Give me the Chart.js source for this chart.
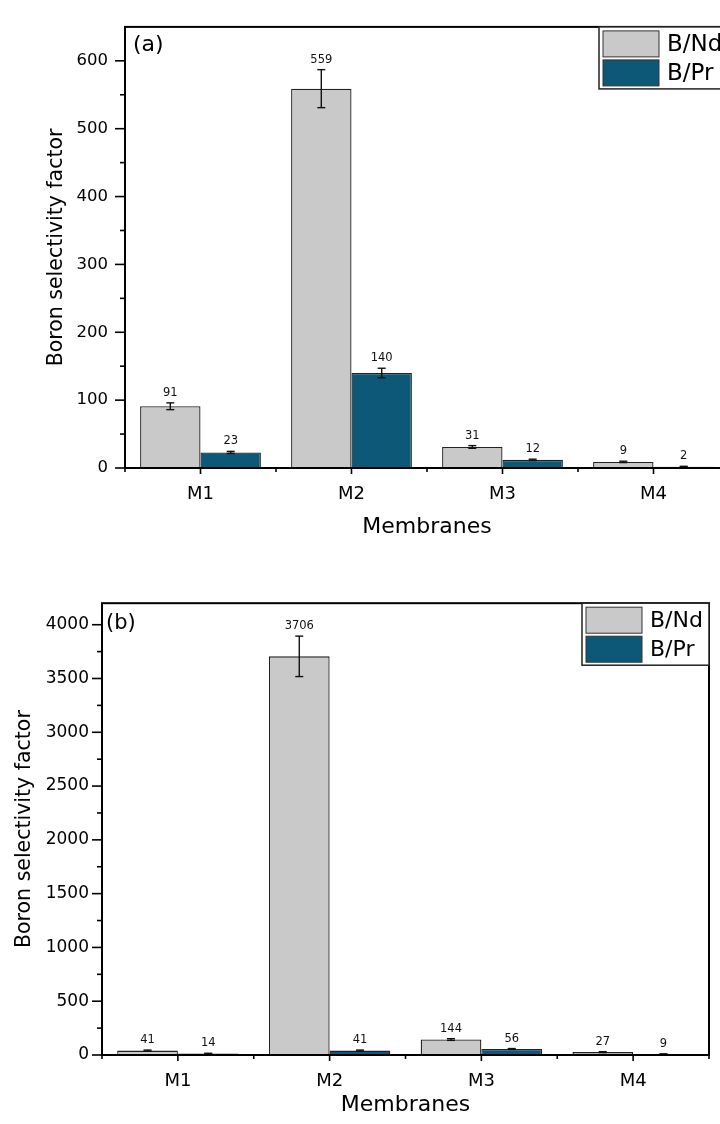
<!DOCTYPE html>
<html>
<head>
<meta charset="utf-8">
<script src="https://cdn.jsdelivr.net/npm/chart.js@4.4.1/dist/chart.umd.min.js"></script>
<style>
html,body{margin:0;padding:0;background:#fff;width:720px;height:1124px;overflow:hidden;}
#ca{position:absolute;left:0;top:0;}
#cb{position:absolute;left:0;top:580px;}
</style>
</head>
<body>
<canvas id="ca" width="745" height="560"></canvas>
<canvas id="cb" width="720" height="544"></canvas>
<script>
// ---------- data ----------
const categories = ['M1', 'M2', 'M3', 'M4'];
const seriesLabels = ['B/Nd', 'B/Pr'];
const seriesColors = ['#c9c9c9', '#0c5876'];

// panel (a)
const ndA = [91, 559, 31, 9];
const ndAErr = [5, 28, 2, 1];
const prA = [23, 140, 12, 2];
const prAErr = [1.5, 7, 1, 0.5];
const yTickValsA = [0, 100, 200, 300, 400, 500, 600];
const yMinorValsA = [50, 150, 250, 350, 450, 550];
const yMaxA = 650;

// panel (b)
const ndB = [41, 3706, 144, 27];
const ndBErr = [5, 188, 8, 4];
const prB = [14, 41, 56, 9];
const prBErr = [2, 5, 4, 1];
const yTickValsB = [0, 500, 1000, 1500, 2000, 2500, 3000, 3500, 4000];
const yMinorValsB = [250, 750, 1250, 1750, 2250, 2750, 3250, 3750];
const yMaxB = 4200;

const FONT = '"DejaVu Sans", "Liberation Sans", Arial, sans-serif';
Chart.defaults.color = '#000';
Chart.defaults.font.family = FONT;

// ---------- plugin: frame, ticks, error bars, value labels, legend ----------
const decor = {
  id: 'decor',
  afterDatasetsDraw(chart, args, o) {
    const ctx = chart.ctx;
    const { left, right, top, bottom } = chart.chartArea;
    const xs = chart.scales.x, ys = chart.scales.y;
    const line = (x1, y1, x2, y2) => { ctx.beginPath(); ctx.moveTo(x1, y1); ctx.lineTo(x2, y2); ctx.stroke(); };
    ctx.save();

    // error bars + value labels
    chart.data.datasets.forEach((ds, di) => {
      const meta = chart.getDatasetMeta(di);
      meta.data.forEach((bar, i) => {
        const v = ds.data[i], e = ds.errors[i];
        const yT = ys.getPixelForValue(v + e), yB = ys.getPixelForValue(v - e);
        ctx.strokeStyle = '#111'; ctx.lineWidth = 1.4;
        line(bar.x, yT, bar.x, yB);
        line(bar.x - 4, yT, bar.x + 4, yT);
        line(bar.x - 4, yB, bar.x + 4, yB);
        ctx.fillStyle = '#111';
        ctx.font = o.valueFont + 'px ' + FONT;
        ctx.textAlign = 'center'; ctx.textBaseline = 'middle';
        ctx.fillText(String(v), bar.x, Math.min(yT, bar.y) - 10);
      });
    });

    // frame
    ctx.strokeStyle = '#000'; ctx.lineWidth = 2;
    ctx.strokeRect(left, top, right - left, bottom - top);

    // y ticks (major + minor)
    ctx.lineWidth = 1.6;
    o.major.forEach(v => { const y = ys.getPixelForValue(v); line(left - 10, y, left, y); });
    o.minor.forEach(v => { const y = ys.getPixelForValue(v); line(left - 5, y, left, y); });
    // x ticks: centers and boundaries
    const n = chart.data.labels.length;
    for (let i = 0; i < n; i++) {
      const xc = xs.getPixelForValue(i);
      line(xc, bottom, xc, bottom + 6);
    }
    for (let i = 0; i <= n; i++) {
      const xb = xs.getPixelForValue(i - 0.5);
      line(xb, bottom, xb, bottom + 4);
    }

    // panel label
    ctx.fillStyle = '#000';
    ctx.font = o.panelFont + 'px ' + FONT;
    ctx.textAlign = 'left'; ctx.textBaseline = 'top';
    ctx.fillText(o.panel, left + o.panelDx, top + o.panelDy);

    // legend box
    const lw = o.legendW, lh = 62;
    const lx = right - o.legendInset - lw, ly = top;
    ctx.fillStyle = '#fff';
    ctx.fillRect(lx, ly, lw, lh);
    ctx.strokeStyle = '#222'; ctx.lineWidth = 1.5;
    ctx.strokeRect(lx, ly, lw, lh);
    chart.data.datasets.forEach((ds, di) => {
      const sy = ly + 4 + di * 29;
      ctx.fillStyle = ds.backgroundColor;
      ctx.fillRect(lx + 4, sy, 56, 26);
      ctx.strokeStyle = '#333'; ctx.lineWidth = 1;
      ctx.strokeRect(lx + 4, sy, 56, 26);
      ctx.fillStyle = '#000';
      ctx.font = o.legendFont + 'px ' + FONT;
      ctx.textAlign = 'left'; ctx.textBaseline = 'middle';
      ctx.fillText(ds.label, lx + 68, sy + 14);
    });
    ctx.restore();
  }
};

function makeChart(id, nd, ndErr, pr, prErr, tickVals, minorVals, yMax, L) {
  return new Chart(document.getElementById(id), {
    type: 'bar',
    data: {
      labels: categories,
      datasets: [
        { label: seriesLabels[0], data: nd, errors: ndErr, backgroundColor: seriesColors[0], borderColor: '#222', borderWidth: 1.3 },
        { label: seriesLabels[1], data: pr, errors: prErr, backgroundColor: seriesColors[1], borderColor: '#15252e', borderWidth: 1.3 }
      ]
    },
    options: {
      responsive: false,
      animation: false,
      devicePixelRatio: 1,
      layout: { padding: { top: L.padTop, right: L.padRight, left: 0, bottom: 0 } },
      datasets: { bar: { categoryPercentage: 0.8, barPercentage: 1.0 } },
      plugins: {
        legend: { display: false },
        tooltip: { enabled: false },
        decor: {
          major: tickVals, minor: minorVals, valueFont: 11.5,
          panel: L.panel, panelFont: L.panelFont, panelDx: L.panelDx, panelDy: L.panelDy,
          legendW: L.legendW, legendInset: L.legendInset, legendFont: L.legendFont
        }
      },
      scales: {
        x: {
          type: 'category',
          offset: true,
          grid: { display: false, drawTicks: false },
          border: { display: false },
          ticks: { font: { size: 18 }, padding: L.xTickPad, color: '#000' },
          title: { display: true, text: 'Membranes', font: { size: 22 }, color: '#000', padding: { top: 0, bottom: L.xTitlePad } },
          afterFit(s) { s.height = L.xHeight; }
        },
        y: {
          min: 0, max: yMax,
          grid: { display: false, drawTicks: false },
          border: { display: false },
          afterBuildTicks(s) { s.ticks = tickVals.map(v => ({ value: v })); },
          ticks: { font: { size: L.yTickFont }, padding: L.yTickPad, color: '#000', callback: v => String(v) },
          title: { display: true, text: 'Boron selectivity factor', font: { size: 20.5 }, color: '#000', padding: { top: L.yTitlePad, bottom: 0 } },
          afterFit(s) { s.width = L.yWidth; }
        }
      }
    },
    plugins: [decor]
  });
}

makeChart('ca', ndA, ndAErr, prA, prAErr, yTickValsA, yMinorValsA, yMaxA, {
  padTop: 17, padRight: 16, xHeight: 92, yWidth: 125,
  xTickPad: 16, xTitlePad: 20, yTickPad: 17, yTickFont: 16.5, yTitlePad: 44,
  panel: '(a)', panelFont: 22, panelDx: 8, panelDy: 7,
  legendW: 128, legendInset: 2, legendFont: 23
});
makeChart('cb', ndB, ndBErr, prB, prBErr, yTickValsB, yMinorValsB, yMaxB, {
  padTop: 21, padRight: 11, xHeight: 69, yWidth: 102,
  xTickPad: 16, xTitlePad: 6, yTickPad: 13, yTickFont: 17, yTitlePad: 12,
  panel: '(b)', panelFont: 21, panelDx: 4, panelDy: 10,
  legendW: 127, legendInset: 0, legendFont: 22
});
</script>
</body>
</html>
